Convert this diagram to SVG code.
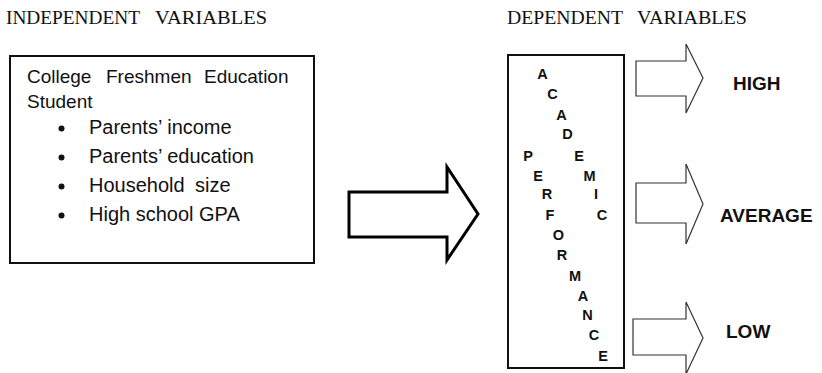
<svg xmlns="http://www.w3.org/2000/svg" width="822" height="373" viewBox="0 0 822 373">
<style>
.hdr{font-family:"Liberation Serif","Times New Roman",serif;font-size:18px;fill:#111}
.body{font-family:"Liberation Sans",Arial,sans-serif;font-size:19px;fill:#111}
.bul{font-family:"Liberation Sans",Arial,sans-serif;font-size:20px;fill:#111}
.let{font-family:"Liberation Sans",Arial,sans-serif;font-size:14.5px;font-weight:bold;fill:#111;text-anchor:middle}
.lbl{font-family:"Liberation Sans",Arial,sans-serif;font-size:19px;font-weight:bold;fill:#111}
.box{fill:#fff;stroke:#111;stroke-width:2}
.big{fill:#fff;stroke:#000;stroke-width:3;stroke-linejoin:miter}
.small{fill:#fff;stroke:#333;stroke-width:1.2}
</style>
<rect width="822" height="373" fill="#fff"/>
<g id="headers">
<text class="hdr" x="6" y="24" textLength="134" lengthAdjust="spacingAndGlyphs">INDEPENDENT</text>
<text class="hdr" x="155" y="24" textLength="112" lengthAdjust="spacingAndGlyphs">VARIABLES</text>
<text class="hdr" x="507" y="24" textLength="116" lengthAdjust="spacingAndGlyphs">DEPENDENT</text>
<text class="hdr" x="637" y="24" textLength="110" lengthAdjust="spacingAndGlyphs">VARIABLES</text>
</g>
<g id="independent">
<rect class="box" x="10" y="56" width="304" height="207"/>
<text class="body" y="83"><tspan x="27">College</tspan><tspan x="106">Freshmen</tspan><tspan x="204">Education</tspan></text>
<text class="body" x="27" y="108">Student</text>
<circle cx="61.5" cy="128.5" r="3" fill="#111"/>
<circle cx="61.5" cy="157.5" r="3" fill="#111"/>
<circle cx="61.5" cy="186.5" r="3" fill="#111"/>
<circle cx="61.5" cy="215.5" r="3" fill="#111"/>
<text class="bul" x="89" y="134">Parents’ income</text>
<text class="bul" x="89" y="163">Parents’ education</text>
<text class="bul" y="192"><tspan x="89">Household</tspan><tspan x="195">size</tspan></text>
<text class="bul" x="89" y="221">High school GPA</text>
</g>
<g id="connectors">
<polygon class="big" points="349,192 447,192 447,167 478,214 447,260 447,237 349,237"/>
</g>
<g id="dependent">
<rect class="box" x="508" y="55" width="116" height="313"/>
<text class="let" x="542.5" y="79">A</text>
<text class="let" x="552.5" y="99">C</text>
<text class="let" x="561.5" y="120">A</text>
<text class="let" x="567.5" y="139">D</text>
<text class="let" x="528" y="160.5">P</text>
<text class="let" x="579" y="160.5">E</text>
<text class="let" x="538" y="180.5">E</text>
<text class="let" x="589.5" y="180.5">M</text>
<text class="let" x="547" y="199">R</text>
<text class="let" x="596" y="199">I</text>
<text class="let" x="550" y="220">F</text>
<text class="let" x="602" y="220">C</text>
<text class="let" x="558.5" y="240">O</text>
<text class="let" x="562" y="260">R</text>
<text class="let" x="575" y="280.5">M</text>
<text class="let" x="583" y="300.5">A</text>
<text class="let" x="587.5" y="320">N</text>
<text class="let" x="594" y="340">C</text>
<text class="let" x="603" y="360.5">E</text>
</g>
<g id="high">
<polygon class="small" points="636,61 686,61 686,44 703,78 686,113 686,96 636,96"/>
<text class="lbl" x="733" y="90">HIGH</text>
</g>
<g id="average">
<polygon class="small" points="636,183 686,183 686,164 703,204 686,244 686,223 636,223"/>
<text class="lbl" x="720" y="222">AVERAGE</text>
</g>
<g id="low">
<polygon class="small" points="633,319 686,319 686,302 703,338 686,374 686,355 633,355"/>
<text class="lbl" x="726" y="338">LOW</text>
</g>
</svg>
